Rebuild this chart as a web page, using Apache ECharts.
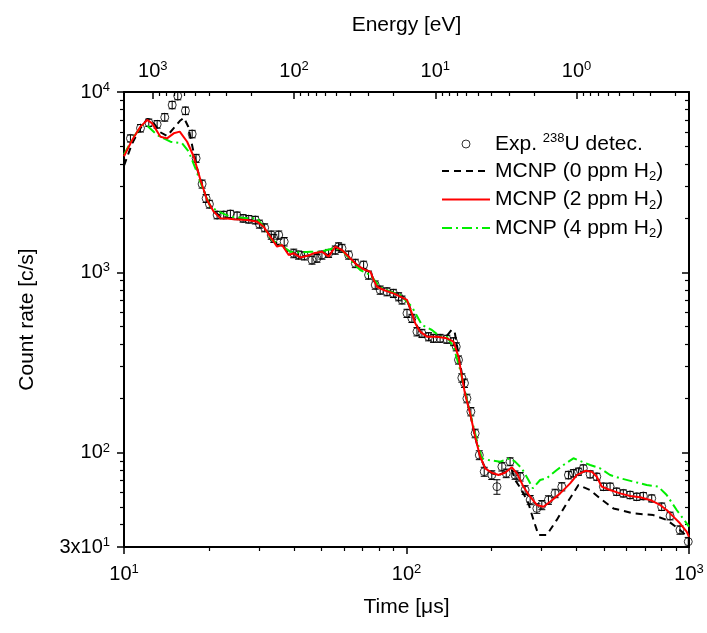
<!DOCTYPE html>
<html>
<head>
<meta charset="utf-8">
<script src="https://cdn.jsdelivr.net/npm/echarts@6/dist/echarts.min.js"></script>
<style>
html,body{margin:0;padding:0;background:#fff;}
#chart{width:707px;height:633px;}
</style>
</head>
<body>
<div id="chart"></div>
<script>
// ---------------- data ----------------
const expTime = [10.54, 11.44, 12.24, 13.1, 13.94, 14.81, 15.5, 16.5, 17.43, 18.0, 18.9, 19.53, 20.06, 21.36, 22.54, 23.8, 25.14, 26.4, 27.64, 29.17, 30.15, 31.47, 33.2, 33.9, 35.3, 36.9, 39.9, 41.5, 43.5, 46.3, 48.2, 50.2, 53.0, 55.97, 57.5, 59.1, 62.4, 65.9, 70.5, 73.4, 77.5, 80.7, 85.3, 89.9, 93.8, 96.4, 100.4, 104.5, 108.9, 113.4, 119.7, 124.6, 131.5, 139, 146.7, 150, 152.8, 157, 160.4, 163.6, 169, 175, 181, 188.4, 200.4, 209, 217.6, 225.4, 232.6, 242.3, 252.5, 263, 274, 289.3, 301.3, 318, 335.7, 354.6, 374.3, 389.8, 406, 422.6, 446.7, 471.6, 497.7, 525.6, 554.4, 585.5, 618.4, 653.2, 689.4, 737.9, 800.5, 857, 929, 994];
const expRate = [5530, 6300, 6760, 6620, 7240, 8470, 9500, 7870, 5850, 4290, 3090, 2570, 2390, 2080, 2080, 2107, 2060, 1993, 1970, 1950, 1853, 1768, 1611, 1545, 1611, 1480, 1275, 1248, 1236, 1170, 1197, 1248, 1275, 1330, 1388, 1360, 1248, 1122, 1098, 966, 851, 798, 781, 765, 733, 703, 593, 556, 469, 459, 440, 431, 431, 426, 413, 387, 327, 260, 243, 200, 169, 128, 97, 78.5, 75.2, 64.8, 83.6, 76.9, 89.2, 75.2, 73.6, 62.1, 54.7, 49.1, 51.3, 54.7, 59.5, 64.8, 75.2, 76.9, 78.5, 81.9, 75.9, 73.6, 64.8, 64.8, 60.8, 59.5, 58.3, 57, 57.5, 55.8, 50.2, 44.6, 37.3, 32.1];
const expErr = [250, 300, 320, 320, 350, 400, 450, 380, 280, 220, 160, 130, 120, 100, 100, 100, 100, 95, 95, 95, 95, 90, 85, 80, 85, 80, 70, 65, 65, 60, 60, 65, 65, 70, 70, 70, 65, 60, 55, 50, 45, 42, 40, 40, 38, 36, 31, 29, 25, 24, 23, 22, 22, 22, 21, 20, 17, 14, 13, 11, 9, 7, 5.5, 4.5, 4.2, 6, 4.5, 4.2, 4.5, 4, 4, 3.5, 3.2, 3, 3, 3, 3.2, 3.4, 3.6, 3.6, 3.6, 3.6, 3.4, 3.3, 3, 3, 2.8, 2.7, 2.7, 2.6, 2.6, 2.5, 2.4, 2.2, 2, 1.8];

const mcnp0Time = [10, 10.69, 11.44, 12.1, 12.6, 13.4, 14.2, 15.0, 15.75, 16.3, 16.9, 17.5, 18.2, 18.65, 19.68, 20.78, 21.93, 23.17, 24.45, 27.28, 29.58, 31.22, 32.96, 34.82, 36.26, 38.28, 39.86, 42.07, 45, 46.9, 50.2, 53, 55.97, 59.1, 63.2, 66.8, 71.45, 74.5, 76.5, 78.6, 83, 89.9, 95.1, 100.4, 104.5, 107.4, 111.8, 118.1, 128.2, 139, 144.5, 148, 152.8, 157, 161.3, 168, 175, 182.3, 189.9, 200.4, 211.7, 223.4, 236, 242.3, 255.9, 270.2, 281.5, 293.1, 313.8, 340.4, 369.4, 406.1, 446.7, 484.6, 540, 635.5, 747.6, 833.8, 929, 1000];
const mcnp0Rate = [3900, 5200, 6300, 7100, 6900, 6000, 5700, 6300, 6900, 7200, 6400, 4900, 3700, 3250, 2520, 2170, 2050, 2010, 1990, 1960, 1920, 1800, 1590, 1420, 1430, 1270, 1280, 1220, 1240, 1270, 1300, 1240, 1370, 1330, 1200, 1100, 1040, 1000, 910, 840, 800, 770, 735, 700, 600, 525, 470, 442, 440, 445, 480, 470, 350, 275, 215, 165, 122, 95, 82, 77, 75, 78, 80, 70.6, 62.1, 52.4, 42.4, 35, 35, 42.4, 52.4, 66.2, 62.1, 55.8, 49.1, 46.1, 45.1, 42.4, 37.3, 33.5];

const mcnp2Time = [10, 10.69, 11.44, 12.08, 12.58, 13.46, 14.2, 15.0, 15.75, 16.73, 17.66, 18.65, 19.68, 20.78, 21.93, 23.17, 24.45, 27.28, 29.58, 31.22, 32.96, 34.82, 36.26, 38.28, 39.86, 42.07, 45.0, 46.9, 50.2, 53.0, 55.97, 59.1, 63.2, 66.8, 71.45, 74.5, 76.5, 78.6, 83.0, 89.9, 95.1, 100.4, 104.5, 107.4, 111.8, 118.1, 128.2, 139.0, 146.7, 152.8, 157, 161.3, 168, 175, 182.3, 189.9, 200.4, 211.7, 223.4, 236, 245.9, 259.4, 274, 289.3, 305.3, 322.4, 349.9, 379.5, 400.9, 428.8, 452.6, 471.6, 491.2, 525.6, 570.2, 618.4, 670.8, 727.8, 789.6, 833.8, 880, 929, 981, 1000];
const mcnp2Rate = [4400, 5420, 6430, 7000, 6700, 5650, 5530, 5900, 6030, 5300, 4375, 3250, 2520, 2170, 1993, 1990, 1970, 1950, 1910, 1790, 1577, 1388, 1418, 1248, 1275, 1210, 1240, 1275, 1302, 1222, 1388, 1330, 1197, 1098, 1030, 1008, 908, 832, 798, 765, 733, 703, 593, 522, 469, 440, 440, 431, 413, 340, 265, 210, 165, 122.7, 95, 81.9, 77.4, 75.2, 77.4, 83, 76.9, 64.8, 57, 51.3, 50.2, 53.5, 59.5, 67.6, 75.2, 79.4, 78.5, 73.6, 64.8, 62.1, 59.5, 57.5, 56.6, 54.7, 51.3, 48.1, 44.2, 40.6, 36.5, 34.2];

const mcnp4Time = [10, 10.83, 11.6, 12.14, 13.1, 14.6, 16.06, 16.94, 17.9, 18.9, 20.23, 21.64, 23.8, 27.28, 29.58, 31.2, 33.4, 35.8, 38.8, 42.07, 45.66, 49.5, 55.2, 59.1, 64.96, 68.6, 74.5, 80.7, 87.6, 95.1, 104.5, 113.4, 123, 131.5, 139, 146.7, 154.9, 161.3, 170.3, 177.4, 184.9, 195, 214.6, 232.6, 242.3, 255.9, 270.2, 280, 297.2, 313.8, 340.4, 359.4, 389.8, 417.4, 446.7, 484.6, 525.6, 570.2, 635.5, 708.5, 778.6, 833.8, 904.5, 981, 1000];
const mcnp4Rate = [4500, 5650, 6560, 6450, 5775, 5300, 5195, 4670, 3775, 2985, 2310, 2170, 2035, 1993, 1993, 1790, 1510, 1418, 1302, 1290, 1302, 1302, 1360, 1330, 1122, 1030, 966, 826, 781, 749, 645, 511, 479, 440, 438, 387, 288, 215, 152, 117.5, 93.1, 91.1, 89.2, 93.1, 89.2, 81.9, 70.6, 63.5, 70.6, 72.2, 80.2, 85.5, 93.1, 89.2, 85.5, 81.9, 75.2, 72.2, 69.1, 66.2, 64.8, 58.3, 48.1, 40.6, 38.9];

// axis ticks
const timeTicks = [10, 100, 1000];
const timeMinor = [20, 30, 40, 50, 60, 70, 80, 90, 200, 300, 400, 500, 600, 700, 800, 900];
const rateTicks = [30, 100, 1000, 10000];
const rateMinor = [40, 50, 60, 70, 80, 90, 200, 300, 400, 500, 600, 700, 800, 900, 2000, 3000, 4000, 5000, 6000, 7000, 8000, 9000];
const energyTicks = [1, 10, 100, 1000];
const energyMinor = [0.2, 0.3, 0.4, 0.5, 0.6, 0.7, 0.8, 0.9, 2, 3, 4, 5, 6, 7, 8, 9, 20, 30, 40, 50, 60, 70, 80, 90, 200, 300, 400, 500, 600, 700, 800, 900];
// energy [eV] = EC / t^2  (t in microseconds)
const EC = 1.6e5;

const legendNames = ['Exp. 238U detec.', 'MCNP (0 ppm H2)', 'MCNP (2 ppm H2)', 'MCNP (4 ppm H2)'];

// ---------------- chart ----------------
const FONT = '"Liberation Sans", Arial, sans-serif';
const zip = (a, b) => a.map((v, i) => [v, b[i]]);

function powLabel(v) {
  const e = Math.floor(Math.log10(v) + 1e-9);
  const m = Math.round(v / Math.pow(10, e));
  if (m === 1) return '{b|10}{s|' + e + '}';
  return '{b|' + m + 'x10}{s|' + e + '}';
}
const labelRich = {
  b: {fontSize: 20, fontFamily: FONT, color: '#000', lineHeight: 22},
  s: {fontSize: 13, fontFamily: FONT, color: '#000', lineHeight: 13, verticalAlign: 'top'}
};

const chart = echarts.init(document.getElementById('chart'), null, {renderer: 'canvas'});

const errData = expTime.map((t, i) => [t, expRate[i], expErr[i]]);

const option = {
  animation: false,
  backgroundColor: '#fff',
  textStyle: {fontFamily: FONT},
  grid: {left: 124, right: 18, top: 92, bottom: 86, containLabel: false},
  legend: {
    show: true, orient: 'vertical', left: 436, top: 127,
    itemWidth: 48, itemHeight: 8, itemGap: 6, selectedMode: false,
    data: [
      {name: legendNames[0], icon: 'circle', itemStyle: {color: 'rgba(0,0,0,0)', borderColor: '#000', borderWidth: 1}},
      {name: legendNames[1], itemStyle: {opacity: 0}},
      {name: legendNames[2], itemStyle: {opacity: 0}},
      {name: legendNames[3], itemStyle: {opacity: 0}}
    ],
    formatter: function (name) {
      if (name === legendNames[0]) return '{t|Exp. }{sup|238}{t|U detec.}';
      const m = name.match(/^(.*H)2\)$/);
      if (m) return '{t|' + m[1] + '}{sub|2}{t|)}';
      return '{t|' + name + '}';
    },
    textStyle: {
      fontFamily: FONT, fontSize: 21, color: '#000',
      rich: {
        t: {fontFamily: FONT, fontSize: 21, color: '#000', lineHeight: 24},
        sup: {fontFamily: FONT, fontSize: 13, color: '#000', lineHeight: 13, verticalAlign: 'top'},
        sub: {fontFamily: FONT, fontSize: 13, color: '#000', lineHeight: 10, verticalAlign: 'bottom'}
      }
    }
  },
  xAxis: [
    {
      type: 'log', logBase: 10, position: 'bottom', min: 10, max: 1000,
      axisLine: {show: true, onZero: false, lineStyle: {color: '#000', width: 2}},
      axisTick: {show: true, inside: false, length: 7, customValues: timeTicks, lineStyle: {color: '#000', width: 1.5}},
      axisLabel: {show: true, margin: 16, customValues: timeTicks, formatter: powLabel, rich: labelRich, color: '#000'},
      splitLine: {show: false}, minorTick: {show: false},
      name: 'Time [μs]', nameLocation: 'middle', nameGap: 50,
      nameTextStyle: {fontSize: 21, fontFamily: FONT, color: '#000'}
    },
    {
      type: 'log', logBase: 10, position: 'top', inverse: true, min: EC / 1e6, max: EC / 100,
      axisLine: {show: true, onZero: false, lineStyle: {color: '#000', width: 2}},
      axisTick: {show: true, inside: true, length: 7, customValues: energyTicks, lineStyle: {color: '#000', width: 1.5}},
      axisLabel: {show: true, margin: 10, customValues: energyTicks, rich: labelRich, color: '#000',
        formatter: function (v) { return energyTicks.some(e => Math.abs(e - v) < 1e-6 * e) ? powLabel(v) : ''; }},
      splitLine: {show: false}, minorTick: {show: false},
      name: 'Energy [eV]', nameLocation: 'middle', nameGap: 56,
      nameTextStyle: {fontSize: 21, fontFamily: FONT, color: '#000'}
    },
    {
      type: 'log', logBase: 10, position: 'bottom', min: 10, max: 1000,
      axisLine: {show: false, onZero: false},
      axisTick: {show: true, inside: false, length: 4, customValues: timeMinor, lineStyle: {color: '#000', width: 1.2}},
      axisLabel: {show: false}, splitLine: {show: false}
    },
    {
      type: 'log', logBase: 10, position: 'top', inverse: true, min: EC / 1e6, max: EC / 100,
      axisLine: {show: false, onZero: false},
      axisTick: {show: true, inside: true, length: 4, customValues: energyMinor, lineStyle: {color: '#000', width: 1.2}},
      axisLabel: {show: false}, splitLine: {show: false}
    }
  ],
  yAxis: [
    {
      type: 'log', logBase: 10, position: 'left', min: 30, max: 10000,
      axisLine: {show: true, onZero: false, lineStyle: {color: '#000', width: 2}},
      axisTick: {show: true, inside: false, length: 7, customValues: rateTicks, lineStyle: {color: '#000', width: 1.5}},
      axisLabel: {show: true, margin: 14, customValues: rateTicks, formatter: powLabel, rich: labelRich, color: '#000'},
      splitLine: {show: false}, minorTick: {show: false},
      name: 'Count rate [c/s]', nameLocation: 'middle', nameGap: 86, nameRotate: 90,
      nameTextStyle: {fontSize: 21, fontFamily: FONT, color: '#000'}
    },
    {
      type: 'log', logBase: 10, position: 'left', min: 30, max: 10000,
      axisLine: {show: false, onZero: false},
      axisTick: {show: true, inside: false, length: 4, customValues: rateMinor, lineStyle: {color: '#000', width: 1.2}},
      axisLabel: {show: false}, splitLine: {show: false}
    },
    {
      type: 'log', logBase: 10, position: 'right', min: 30, max: 10000,
      axisLine: {show: true, onZero: false, lineStyle: {color: '#000', width: 2}},
      axisTick: {show: true, inside: true, length: 7, customValues: rateTicks, lineStyle: {color: '#000', width: 1.5}},
      axisLabel: {show: false}, splitLine: {show: false}
    },
    {
      type: 'log', logBase: 10, position: 'right', min: 30, max: 10000,
      axisLine: {show: false, onZero: false},
      axisTick: {show: true, inside: true, length: 4, customValues: rateMinor, lineStyle: {color: '#000', width: 1.2}},
      axisLabel: {show: false}, splitLine: {show: false}
    }
  ],
  series: [
    {
      type: 'custom', name: 'errorbars', xAxisIndex: 0, yAxisIndex: 0, silent: true, clip: true, z: 2,
      data: errData,
      encode: {x: 0, y: 1},
      renderItem: function (params, api) {
        const x = api.value(0), y = api.value(1), e = api.value(2);
        const top = api.coord([x, y + e]);
        const bot = api.coord([x, Math.max(y - e, 1e-3)]);
        const hw = 3.5;
        const st = {stroke: '#000', lineWidth: 1};
        return {
          type: 'group',
          children: [
            {type: 'line', shape: {x1: top[0], y1: top[1], x2: bot[0], y2: bot[1]}, style: st},
            {type: 'line', shape: {x1: top[0] - hw, y1: top[1], x2: top[0] + hw, y2: top[1]}, style: st},
            {type: 'line', shape: {x1: bot[0] - hw, y1: bot[1], x2: bot[0] + hw, y2: bot[1]}, style: st}
          ]
        };
      }
    },
    {
      type: 'scatter', name: legendNames[0], xAxisIndex: 0, yAxisIndex: 0, z: 3,
      data: zip(expTime, expRate),
      symbol: 'circle', symbolSize: 8,
      itemStyle: {color: 'rgba(0,0,0,0)', borderColor: '#000', borderWidth: 1}
    },
    {
      type: 'line', name: legendNames[1], xAxisIndex: 0, yAxisIndex: 0, z: 4,
      data: zip(mcnp0Time, mcnp0Rate), symbol: 'none', showSymbol: false,
      lineStyle: {color: '#000', width: 2, type: [7, 5]}, itemStyle: {color: '#000'}
    },
    {
      type: 'line', name: legendNames[2], xAxisIndex: 0, yAxisIndex: 0, z: 5,
      data: zip(mcnp2Time, mcnp2Rate), symbol: 'none', showSymbol: false,
      lineStyle: {color: '#ff0000', width: 2, type: 'solid'}, itemStyle: {color: '#ff0000'}
    },
    {
      type: 'line', name: legendNames[3], xAxisIndex: 0, yAxisIndex: 0, z: 4,
      data: zip(mcnp4Time, mcnp4Rate), symbol: 'none', showSymbol: false,
      lineStyle: {color: '#00ee00', width: 2, type: [10, 4, 2, 4]}, itemStyle: {color: '#00ee00'}
    }
  ]
};
chart.setOption(option);
</script>
</body>
</html>
